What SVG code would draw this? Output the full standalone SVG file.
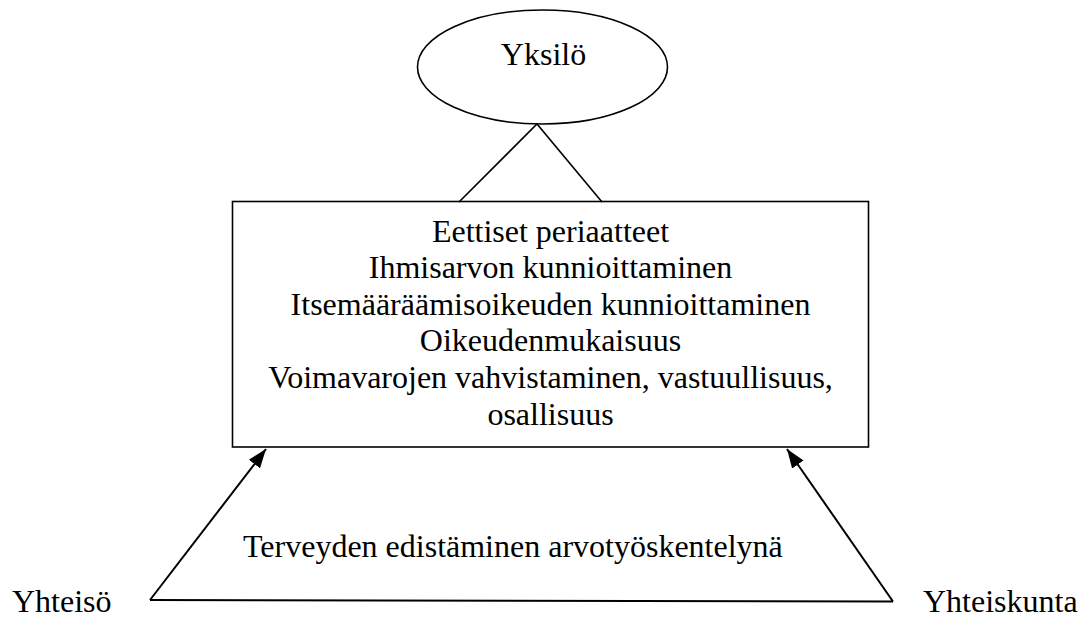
<svg xmlns="http://www.w3.org/2000/svg" width="1086" height="617" viewBox="0 0 1086 617">
<style>
.t{font-family:"Liberation Serif","Times New Roman",serif;font-size:32px;fill:#000}
.m{text-anchor:middle}
.s{fill:none;stroke:#000;stroke-width:1.6}
.a{fill:none;stroke:#000;stroke-width:2}
</style>
<defs>
<marker id="arr" markerUnits="userSpaceOnUse" markerWidth="20" markerHeight="16" viewBox="0 0 20 16" refX="19" refY="8" orient="auto">
<path d="M0,1 L19,8 L0,15 Z" fill="#000"/>
</marker>
</defs>
<rect width="1086" height="617" fill="#fff"/>
<g id="yksilo">
<ellipse class="s" cx="542.5" cy="67" rx="125" ry="57"/>
<text class="t m" x="543.5" y="65">Yksilö</text>
</g>
<g id="periaatteet">
<rect class="s" x="232.5" y="201.5" width="636" height="245.5" fill="#fff"/>
<text class="t m" x="550.5" y="241.5">Eettiset periaatteet</text>
<text class="t m" x="550.5" y="278">Ihmisarvon kunnioittaminen</text>
<text class="t m" x="550.5" y="314.5">Itsemääräämisoikeuden kunnioittaminen</text>
<text class="t m" x="550.5" y="351">Oikeudenmukaisuus</text>
<text class="t m" x="550.5" y="388">Voimavarojen vahvistaminen, vastuullisuus,</text>
<text class="t m" x="550.5" y="424.5">osallisuus</text>
</g>
<g id="terveyden">
<text class="t" x="243" y="557">Terveyden edistäminen arvotyöskentelynä</text>
</g>
<g id="yhteiso">
<text class="t" x="12" y="612">Yhteisö</text>
</g>
<g id="yhteiskunta">
<text class="t" x="923" y="612">Yhteiskunta</text>
</g>
<g id="connectors">
<polyline class="s" points="459,202 537,124 602,202"/>
<line class="a" x1="150" y1="600" x2="893" y2="601.5"/>
<line class="a" x1="150" y1="600" x2="266" y2="449" marker-end="url(#arr)"/>
<line class="a" x1="893" y1="601.5" x2="787" y2="449" marker-end="url(#arr)"/>
</g>
</svg>
